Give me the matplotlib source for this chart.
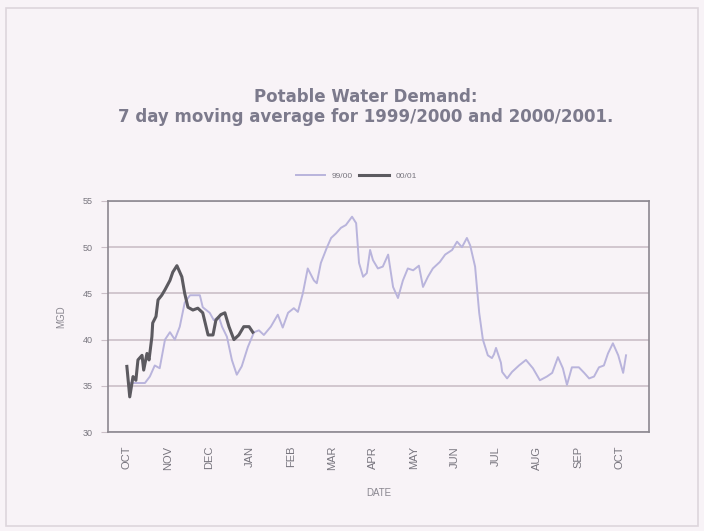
import matplotlib
matplotlib.use('Agg')
import matplotlib.pyplot as plt
import matplotlib.patches as patches

plt.rcParams['font.family'] = ['Liberation Sans', 'DejaVu Sans']

# 월 위치 (0 = OCT, 12 = 다음해 OCT)
months = ['OCT', 'NOV', 'DEC', 'JAN', 'FEB', 'MAR', 'APR', 'MAY',
          'JUN', 'JUL', 'AUG', 'SEP', 'OCT']

# 99/00 시리즈 (월 위치, MGD)
x_9900 = [0.07, 0.44, 0.56, 0.68, 0.80, 0.93, 1.05, 1.17, 1.29, 1.41,
          1.54, 1.78, 1.85, 2.02, 2.12, 2.24, 2.32, 2.44, 2.56, 2.68,
          2.80, 2.95, 3.10, 3.22, 3.34, 3.51, 3.68, 3.80, 3.93, 4.07,
          4.17, 4.29, 4.41, 4.56, 4.63, 4.73, 4.88, 4.98, 5.10, 5.22,
          5.34, 5.49, 5.59, 5.66, 5.76, 5.85, 5.93, 6.00, 6.12, 6.24,
          6.37, 6.49, 6.61, 6.73, 6.85, 6.98, 7.12, 7.22, 7.34, 7.46,
          7.63, 7.76, 7.93, 8.05, 8.17, 8.29, 8.37, 8.49, 8.59, 8.68,
          8.80, 8.90, 8.95, 9.00, 9.12, 9.15, 9.27, 9.39, 9.56, 9.73,
          9.90, 10.07, 10.24, 10.37, 10.51, 10.63, 10.73, 10.85, 11.02,
          11.15, 11.27, 11.39, 11.51, 11.63, 11.73, 11.85, 11.98, 12.10,
          12.17]
y_9900 = [35.3, 35.3, 36.0, 37.2, 36.9, 40.0, 40.8, 40.0, 41.4, 44.0,
          44.8, 44.8, 43.5, 42.9, 42.1, 42.5, 41.4, 40.3, 37.8, 36.2,
          37.1, 39.2, 40.8, 41.0, 40.5, 41.4, 42.7, 41.3, 42.9, 43.4,
          43.0, 45.0, 47.7, 46.4, 46.1, 48.3, 50.0, 51.0, 51.5, 52.1,
          52.4, 53.3, 52.6, 48.3, 46.8, 47.2, 49.7, 48.6, 47.7, 47.9,
          49.2, 45.7, 44.5, 46.4, 47.7, 47.5, 48.0, 45.7, 46.8, 47.7,
          48.4, 49.2, 49.7, 50.6, 50.0, 51.0, 50.2, 47.9, 42.9, 40.0,
          38.3, 38.0, 38.4, 39.1, 37.5, 36.5, 35.8, 36.5, 37.2, 37.8,
          36.9, 35.6, 36.0, 36.4, 38.1, 36.9, 35.1, 37.0, 37.0, 36.4,
          35.8, 36.0, 37.0, 37.2, 38.5, 39.6, 38.3, 36.4, 38.3]
x_9900 = x_9900[:len(y_9900)]

# 00/01 시리즈
x_0001 = [0.00, 0.07, 0.15, 0.22, 0.27, 0.37, 0.41, 0.49, 0.54, 0.61,
          0.63, 0.71, 0.76, 0.85, 0.93, 1.05, 1.12, 1.22, 1.34, 1.41,
          1.49, 1.61, 1.73, 1.85, 1.98, 2.10, 2.17, 2.29, 2.39, 2.49,
          2.61, 2.73, 2.85, 2.98, 3.07]
y_0001 = [37.1, 33.8, 36.0, 35.6, 37.8, 38.3, 36.7, 38.5, 37.8, 40.3,
          41.8, 42.5, 44.3, 44.8, 45.4, 46.4, 47.3, 48.0, 46.8, 45.0,
          43.5, 43.2, 43.4, 42.9, 40.5, 40.5, 42.1, 42.7, 42.9, 41.4,
          40.0, 40.5, 41.4, 41.4, 40.8]

bg = '#f8f3f7'
txt = '#78757e'
fig = plt.figure(figsize=(7.04, 5.31), dpi=100, facecolor=bg)
fig.patches.append(patches.Rectangle((6 / 704, 5 / 531), 692 / 704, 518 / 531,
                                     transform=fig.transFigure, fill=False,
                                     edgecolor='#ddd6dc', lw=1.2))

ax = fig.add_axes([108 / 704, 99 / 531, 541 / 704, 231 / 531], facecolor=bg)

ax.plot(x_9900, y_9900, color='#b9b4dc', lw=1.4, label='99/00')
ax.plot(x_0001, y_0001, color='#5c5a60', lw=2.2, label='00/01')

ax.set_xlim(-0.46, 12.73)
ax.set_ylim(30, 55)
ax.set_yticks([30, 35, 40, 45, 50, 55])
ax.set_xticks(range(len(months)))
ax.set_xticklabels(months, rotation=90)
ax.yaxis.grid(True, color='#cbbfc7', lw=1.2)
ax.set_axisbelow(True)

for s in ax.spines.values():
    s.set_color('#8c8890')
    s.set_linewidth(1.2)

ax.tick_params(axis='y', length=5, color='#cbbfc7', labelsize=6.5,
               labelcolor=txt, pad=6)
ax.tick_params(axis='x', length=0, labelsize=8, labelcolor=txt, pad=10)

ax.set_xlabel('DATE', fontsize=7, color='#8a8790', labelpad=13)
ax.set_ylabel('MGD', fontsize=7, color='#8a8790', labelpad=12)

title_font = ['DejaVu Sans']
fig.text(0.519, 0.818, 'Potable Water Demand:', ha='center', va='center',
         fontsize=12, fontweight='bold', color='#7c7a8c', family=title_font)
fig.text(0.519, 0.779, '7 day moving average for 1999/2000 and 2000/2001.',
         ha='center', va='center', fontsize=12, fontweight='bold', color='#7c7a8c',
         family=title_font)

leg = fig.legend(loc='center', bbox_to_anchor=(0.506, 0.668), ncol=2, frameon=False,
                 fontsize=6, handlelength=3.5, columnspacing=0.8, handletextpad=0.8)
for t in leg.get_texts():
    t.set_color(txt)

fig.savefig('out.png', dpi=100, facecolor=bg)
